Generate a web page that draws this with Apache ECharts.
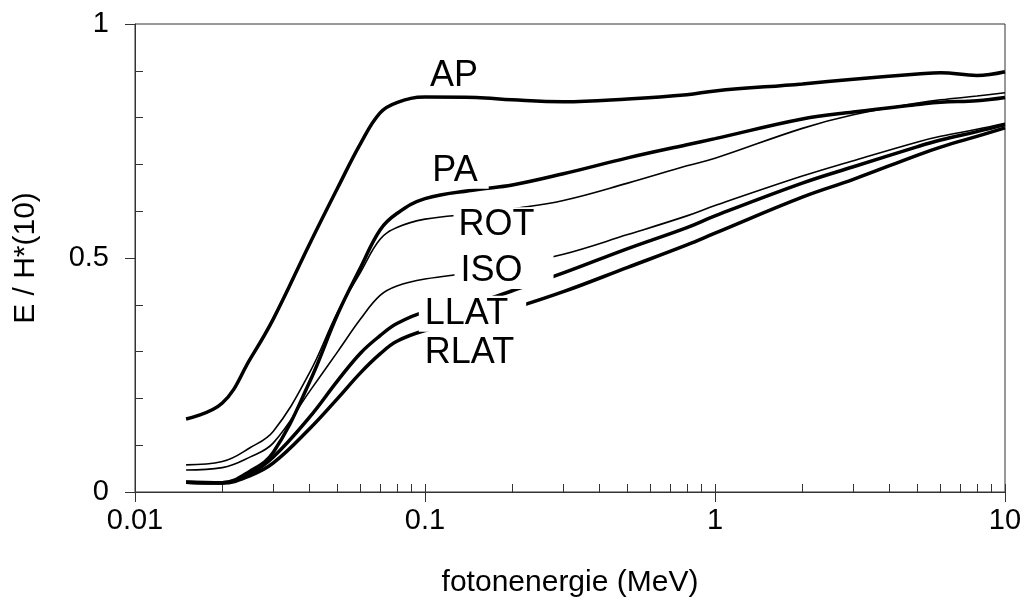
<!DOCTYPE html>
<html>
<head>
<meta charset="UTF-8">
<title>E / H*(10)</title>
<script src="https://cdn.jsdelivr.net/npm/echarts@6/dist/echarts.min.js"></script>
<style>
    html, body { margin: 0; padding: 0; background: #fff; }
    #main { width: 1026px; height: 603px; }
</style>
</head>
<body>
<div id="main"></div>
<script>
    // fotonenergie (MeV)
    var energie = [0.015, 0.02, 0.025, 0.03, 0.04, 0.05, 0.06, 0.07, 0.08, 0.1, 0.15, 0.2, 0.3, 0.5, 0.8, 1, 2, 3, 5, 6, 8, 10];

    // E / H*(10) per bestralingsgeometrie
    var ap   = [0.156, 0.19, 0.285, 0.37, 0.53, 0.65, 0.745, 0.81, 0.832, 0.844, 0.843, 0.838, 0.834, 0.84, 0.849, 0.857, 0.872, 0.882, 0.893, 0.896, 0.89, 0.898];
    var pa   = [0.021, 0.02, 0.045, 0.085, 0.235, 0.38, 0.48, 0.56, 0.595, 0.627, 0.646, 0.656, 0.68, 0.714, 0.742, 0.755, 0.797, 0.812, 0.828, 0.833, 0.836, 0.843];
    var rot  = [0.058, 0.065, 0.095, 0.13, 0.255, 0.385, 0.47, 0.54, 0.565, 0.583, 0.595, 0.605, 0.623, 0.66, 0.697, 0.713, 0.777, 0.806, 0.831, 0.838, 0.846, 0.853];
    var iso  = [0.047, 0.052, 0.075, 0.105, 0.215, 0.30, 0.37, 0.42, 0.44, 0.455, 0.47, 0.485, 0.508, 0.55, 0.59, 0.612, 0.675, 0.708, 0.748, 0.76, 0.775, 0.788];
    var llat = [0.021, 0.02, 0.04, 0.075, 0.16, 0.238, 0.297, 0.334, 0.36, 0.385, 0.405, 0.43, 0.468, 0.52, 0.565, 0.59, 0.66, 0.695, 0.738, 0.752, 0.77, 0.785];
    var rlat = [0.021, 0.019, 0.035, 0.062, 0.135, 0.2, 0.255, 0.295, 0.322, 0.345, 0.37, 0.392, 0.428, 0.48, 0.528, 0.553, 0.63, 0.668, 0.72, 0.737, 0.76, 0.778];

    // curve labels, placed at data coordinates (centre of the white label box)
    var labelNames = ['AP', 'PA', 'ROT', 'ISO', 'LLAT', 'RLAT'];
    var labelX = [0.1289, 0.1305, 0.1836, 0.1873, 0.1458, 0.1446];
    var labelY = [0.889, 0.6866, 0.570, 0.472, 0.381, 0.297];

    // white box padding per label [left, right]
    var labelPad = [[4, 10], [4, 11], [5, 15], [6, 31], [6, 18], [6, 10]];

    var font = '"Liberation Sans", Arial, Helvetica, sans-serif';
    var axisColor = '#333';

    function pairs(ys) {
        var out = [];
        for (var i = 0; i < energie.length; i++) {
            out.push([energie[i], ys[i]]);
        }
        return out;
    }

    function curve(name, ys, width) {
        return {
            name: name,
            type: 'line',
            data: pairs(ys),
            showSymbol: false,
            smooth: 0.4,
            lineStyle: { color: '#000', width: width },
            z: 2,
            silent: true
        };
    }

    var labelData = [];
    for (var i = 0; i < labelNames.length; i++) {
        labelData.push({
            value: [labelX[i], labelY[i]],
            label: { padding: [0, labelPad[i][1], 0, labelPad[i][0]] }
        });
    }

    var myChart = echarts.init(document.getElementById('main'));
    var option = {
        animation: false,
        backgroundColor: '#fff',
        grid: {
            left: 135, right: 21, top: 24, bottom: 110,
            show: true, borderColor: axisColor, borderWidth: 1
        },
        xAxis: [{
            type: 'log',
            logBase: 10,
            min: 0.01,
            max: 10,
            name: 'fotonenergie (MeV)',
            nameLocation: 'middle',
            nameGap: 76,
            nameTextStyle: { fontSize: 30, color: '#000', fontFamily: font },
            axisLine: { lineStyle: { color: axisColor, width: 1 } },
            axisTick: { length: 10, lineStyle: { color: axisColor } },
            axisLabel: {
                fontSize: 29, color: '#000', fontFamily: font, margin: 14,
                formatter: function (v) { return String(parseFloat(v.toPrecision(6))); }
            },
            splitLine: { show: false }
        }, {
            type: 'log',
            logBase: 10,
            min: 0.01,
            max: 10,
            position: 'bottom',
            axisLine: { show: false },
            axisTick: { inside: true, length: 8, lineStyle: { color: axisColor } },
            minorTick: { show: true, splitNumber: 9, length: 8, lineStyle: { color: axisColor } },
            axisLabel: { show: false },
            splitLine: { show: false }
        }],
        yAxis: [{
            type: 'value',
            min: 0,
            max: 1,
            interval: 0.5,
            name: 'E / H*(10)',
            nameLocation: 'middle',
            nameRotate: 90,
            nameGap: 94,
            nameTextStyle: { fontSize: 30, color: '#000', fontFamily: font },
            axisLine: { show: true, lineStyle: { color: axisColor, width: 1 } },
            axisTick: { show: true, length: 10, lineStyle: { color: axisColor } },
            axisLabel: { fontSize: 29, color: '#000', fontFamily: font, margin: 26 },
            splitLine: { show: false }
        }, {
            type: 'value',
            min: 0,
            max: 1,
            interval: 0.5,
            position: 'left',
            axisLine: { show: false },
            axisTick: { show: false, inside: true },
            minorTick: { show: true, splitNumber: 5, length: 8, lineStyle: { color: axisColor } },
            axisLabel: { show: false },
            splitLine: { show: false }
        }],
        series: [
            curve('AP', ap, 3.5),
            curve('PA', pa, 3.5),
            curve('ROT', rot, 1.6),
            curve('ISO', iso, 1.6),
            curve('LLAT', llat, 3.5),
            curve('RLAT', rlat, 3.5),
            {
                type: 'scatter',
                data: labelData,
                symbolSize: 1,
                itemStyle: { color: '#fff', opacity: 1 },
                z: 10,
                silent: true,
                label: {
                    show: true,
                    position: 'inside',
                    fontSize: 36,
                    color: '#000',
                    textBorderWidth: 0,
                    fontFamily: font,
                    backgroundColor: '#fff',
                    formatter: function (p) { return labelNames[p.dataIndex]; }
                }
            }
        ]
    };
    myChart.setOption(option);
</script>
</body>
</html>
